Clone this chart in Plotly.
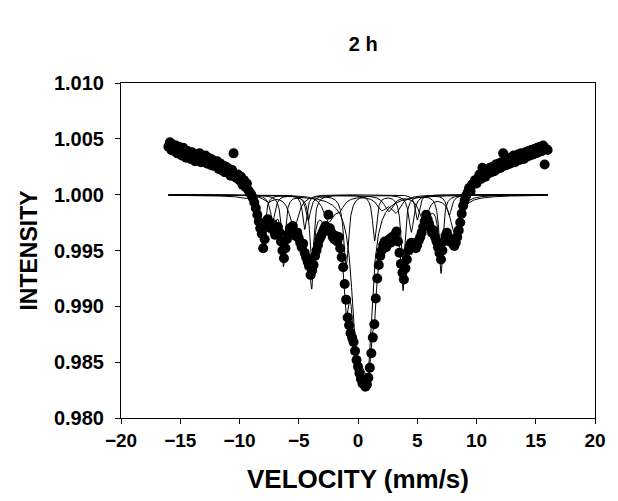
import numpy as np
import plotly.graph_objects as go

# ---------------- text ----------------
title_text = "2 h"
x_title = "VELOCITY (mm/s)"
y_title = "INTENSITY"
x_tick_vals = [-20, -15, -10, -5, 0, 5, 10, 15, 20]
y_tick_vals = [0.980, 0.985, 0.990, 0.995, 1.000, 1.005, 1.010]
y_tick_text = ["0.980", "0.985", "0.990", "0.995", "1.000", "1.005", "1.010"]

# ---------------- measured spectrum (channels every 0.125 mm/s from -16) ----------------
v_start = -16.0
v_step = 0.125
intensity = [
    # -16 .. -15.125
    1.0043, 1.0047, 1.0040, 1.0045, 1.0039, 1.0044, 1.0037, 1.0043,
    # -15 .. -14.125
    1.0039, 1.0035, 1.0042, 1.0036, 1.0033, 1.0039, 1.0036, 1.0032,
    # -14 .. -13.125
    1.0038, 1.0034, 1.0030, 1.0036, 1.0033, 1.0037, 1.0029, 1.0034,
    # -13 .. -12.125
    1.0031, 1.0035, 1.0028, 1.0033, 1.0027, 1.0032, 1.0026, 1.0030,
    # -12 .. -11.125
    1.0026, 1.0030, 1.0023, 1.0028, 1.0022, 1.0026, 1.0020, 1.0025,
    # -11 .. -10.125
    1.0020, 1.0023, 1.0017, 1.0022, 1.0037, 1.0016, 1.0015, 1.0018,
    # -10 .. -9.125
    1.0013, 1.0016, 1.0009, 1.0013, 1.0007, 1.0010, 1.0004, 1.0002,
    # -9 .. -8.125
    1.0000, 0.9997, 0.9993, 0.9988, 0.9982, 0.9976, 0.9970, 0.9965,
    # -8 .. -7.125
    0.9952, 0.9960, 0.9972, 0.9978, 0.9975, 0.9970, 0.9974, 0.9968,
    # -7 .. -6.125
    0.9964, 0.9968, 0.9971, 0.9966, 0.9958, 0.9950, 0.9943, 0.9952,
    # -6 .. -5.125
    0.9960, 0.9965, 0.9970, 0.9968, 0.9972, 0.9967, 0.9963, 0.9966,
    # -5 .. -4.125
    0.9961, 0.9957, 0.9953, 0.9956, 0.9948, 0.9944, 0.9940, 0.9936,
    # -4 .. -3.125
    0.9928, 0.9932, 0.9937, 0.9945, 0.9950, 0.9955, 0.9960, 0.9963,
    # -3 .. -2.125
    0.9966, 0.9969, 0.9972, 0.9968, 0.9982, 0.9970, 0.9966, 0.9962,
    # -2 .. -1.125
    0.9960, 0.9963, 0.9958, 0.9962, 0.9952, 0.9944, 0.9935, 0.9920,
    # -1 .. -0.125
    0.9906, 0.9890, 0.9883, 0.9876, 0.9872, 0.9868, 0.9860, 0.9852,
    # 0 .. 0.875
    0.9846, 0.9840, 0.9835, 0.9831, 0.9834, 0.9828, 0.9830, 0.9836,
    # 1 .. 1.875
    0.9845, 0.9858, 0.9872, 0.9884, 0.9907, 0.9925, 0.9937, 0.9945,
    # 2 .. 2.875
    0.9950, 0.9955, 0.9958, 0.9953, 0.9956, 0.9960, 0.9957, 0.9962,
    # 3 .. 3.875
    0.9959, 0.9964, 0.9967, 0.9958, 0.9948, 0.9938, 0.9930, 0.9924,
    # 4 .. 4.875
    0.9934, 0.9942, 0.9950, 0.9954, 0.9957, 0.9953, 0.9956, 0.9952,
    # 5 .. 5.875
    0.9955, 0.9959, 0.9962, 0.9966, 0.9971, 0.9976, 0.9982, 0.9978,
    # 6 .. 6.875
    0.9974, 0.9970, 0.9966, 0.9968, 0.9962, 0.9958, 0.9953, 0.9948,
    # 7 .. 7.875
    0.9942, 0.9950, 0.9958, 0.9963, 0.9966, 0.9962, 0.9958, 0.9960,
    # 8 .. 8.875
    0.9956, 0.9954, 0.9957, 0.9962, 0.9968, 0.9975, 0.9983, 0.9990,
    # 9 .. 9.875
    0.9995, 0.9999, 1.0002, 1.0006, 1.0003, 1.0009, 1.0010, 1.0013,
    # 10 .. 10.875
    1.0010, 1.0015, 1.0018, 1.0014, 1.0024, 1.0019, 1.0016, 1.0022,
    # 11 .. 11.875
    1.0019, 1.0024, 1.0020, 1.0025, 1.0021, 1.0027, 1.0023, 1.0028,
    # 12 .. 12.875
    1.0024, 1.0029, 1.0037, 1.0026, 1.0031, 1.0027, 1.0033, 1.0028,
    # 13 .. 13.875
    1.0032, 1.0035, 1.0029, 1.0034, 1.0036, 1.0031, 1.0037, 1.0033,
    # 14 .. 14.875
    1.0032, 1.0038, 1.0034, 1.0039, 1.0035, 1.0040, 1.0036, 1.0041,
    # 15 .. 15.875
    1.0037, 1.0042, 1.0038, 1.0043, 1.0039, 1.0044, 1.0027, 1.0041,
    # 16
    1.0040,
]
velocity = [round(v_start + i * v_step, 3) for i in range(len(intensity))]

# ---------------- fitted sub-spectra: line positions (mm/s) and half widths ----------------
sextet_a_pos = [-8.0, -4.5, -1.1, 1.7, 5.0, 8.3]
sextet_a_hw = 0.20
sextet_b_pos = [-6.3, -3.9, -1.3, 1.4, 3.8, 7.0]
sextet_b_hw = 0.20
sextet_c_pos = [-7.2, -4.2, -1.0, 1.5, 4.5, 7.7]
sextet_c_hw = 0.25
sextet_d_pos = [-7.6, -5.4, -2.3, 2.6, 5.5, 8.2]
sextet_d_hw = 0.45
broad_pos = [-2.5, -1.6, 0.3, 2.0, 3.2]
broad_hw = 0.50
doublet_pos = [-0.15, 0.35, 0.85]
doublet_hw = 0.45

components = [
    (sextet_a_pos, sextet_a_hw),
    (sextet_b_pos, sextet_b_hw),
    (sextet_c_pos, sextet_c_hw),
    (sextet_d_pos, sextet_d_hw),
    (broad_pos, broad_hw),
    (doublet_pos, doublet_hw),
]
fit_window = 9.0  # mm/s, region where the sub-spectra are fitted to the data


def lorentz(v, p, hw):
    return 1.0 / (1.0 + ((np.asarray(v) - p) / hw) ** 2)


def nnls(A, b):
    active = list(range(A.shape[1]))
    while True:
        sol, *_ = np.linalg.lstsq(A[:, active], b, rcond=None)
        if (sol >= 0).all() or len(active) == 1:
            x = np.zeros(A.shape[1])
            x[active] = np.clip(sol, 0, None)
            return x
        active.pop(int(np.argmin(sol)))


# line depths obtained by fitting the line shapes to the measured points
v_arr = np.array(velocity)
i_arr = np.array(intensity)
mask = np.abs(v_arr) <= fit_window
cols, owners = [], []
for k, (pos, hw) in enumerate(components):
    for p in pos:
        cols.append(lorentz(v_arr[mask], p, hw))
        owners.append((k, p, hw))
A = np.column_stack(cols)
depths = nnls(A, 1.0 - i_arr[mask])

curve_v = np.linspace(-16, 16, 1601)
sub_curves = [np.ones_like(curve_v) for _ in components]
total = np.ones_like(curve_v)
for (k, p, hw), d in zip(owners, depths):
    shape = d * lorentz(curve_v, p, hw)
    sub_curves[k] -= shape
    total -= shape

FONT = "Liberation Sans, Arial, sans-serif"

fig = go.Figure()

for yc in sub_curves:
    fig.add_trace(go.Scatter(
        x=curve_v, y=yc, mode="lines",
        line=dict(color="black", width=1), hoverinfo="skip", showlegend=False))

fig.add_trace(go.Scatter(
    x=curve_v, y=total, mode="lines",
    line=dict(color="black", width=1), hoverinfo="skip", showlegend=False))

fig.add_trace(go.Scatter(
    x=velocity, y=intensity, mode="markers",
    marker=dict(color="black", size=10, line=dict(width=0)),
    showlegend=False))

fig.update_layout(
    width=618, height=501,
    margin=dict(l=121, r=12, t=83, b=82),
    paper_bgcolor="white", plot_bgcolor="white",
    title=dict(text=title_text, x=0.5878, xanchor="center", y=0.912, yanchor="middle",
               font=dict(family=FONT, size=20, color="black", weight="bold")),
    xaxis=dict(range=[-20, 20], tickvals=x_tick_vals,
               ticks="outside", ticklen=5, tickwidth=1, tickcolor="black",
               showline=True, linecolor="black", linewidth=1, mirror=True,
               showgrid=False, zeroline=False,
               tickfont=dict(family=FONT, size=19, color="black", weight="bold"),
               title=dict(text=x_title, standoff=20,
                          font=dict(family=FONT, size=26, color="black", weight="bold"))),
    yaxis=dict(range=[0.980, 1.010], tickvals=y_tick_vals, ticktext=y_tick_text,
               ticks="outside", ticklen=5, tickwidth=1, tickcolor="black",
               ticklabelstandoff=7,
               showline=True, linecolor="black", linewidth=1, mirror=True,
               showgrid=False, zeroline=False,
               tickfont=dict(family=FONT, size=20, color="black", weight="bold"),
               title=dict(text=y_title, standoff=9,
                          font=dict(family=FONT, size=23, color="black", weight="bold"))),
)

fig.write_html("out.html")
